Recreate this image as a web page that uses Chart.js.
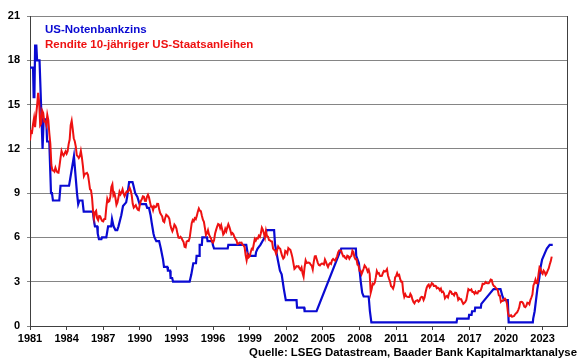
<!DOCTYPE html>
<html>
<head>
<meta charset="utf-8">
<script src="https://cdn.jsdelivr.net/npm/chart.js@4"></script>
<style>
  body { margin: 0; background: #fff; }
  canvas { display: block; }
</style>
</head>
<body>
<canvas id="chart" width="580" height="359"></canvas>
<script>
// Leitzins (Zielsatz, Obergrenze): Eckpunkte der Linie
const fedDates = [
  1981.00, 1981.25, 1981.30, 1981.36, 1981.42, 1981.52, 1981.58, 1981.78, 1982.03, 1982.12,
  1982.33, 1982.40, 1982.58, 1982.72, 1982.80, 1982.88, 1983.40, 1983.50, 1984.20, 1984.60,
  1984.75, 1984.85, 1984.95, 1985.05, 1985.30, 1985.40, 1986.15, 1986.22, 1986.32, 1986.50,
  1986.55, 1986.65, 1986.85, 1986.90, 1987.25, 1987.40, 1987.65, 1987.72, 1987.85, 1988.00,
  1988.15, 1988.25, 1988.48, 1988.62, 1988.88, 1988.96, 1989.12, 1989.40, 1989.48, 1989.62,
  1989.80, 1989.98, 1990.50, 1990.60, 1990.75, 1990.88, 1990.97, 1991.12, 1991.20, 1991.35,
  1991.58, 1991.72, 1991.90, 1991.98, 1992.25, 1992.30, 1992.48, 1992.52, 1992.65, 1992.72,
  1994.08, 1994.22, 1994.38, 1994.60, 1994.65, 1994.85, 1994.90, 1995.08, 1995.12, 1995.50,
  1995.55, 1995.94, 1995.98, 1996.08, 1997.20, 1997.25, 1998.72, 1998.82, 1998.90, 1999.48,
  1999.52, 1999.65, 1999.88, 2000.22, 2000.40, 2001.00, 2001.08, 2001.30, 2001.48, 2001.62,
  2001.80, 2001.96, 2002.84, 2002.88, 2003.46, 2003.50, 2004.48, 2006.50, 2007.70, 2007.73,
  2007.95, 2008.10, 2008.22, 2008.34, 2008.75, 2008.85, 2008.97, 2015.95, 2016.00, 2016.94,
  2016.98, 2017.18, 2017.22, 2017.44, 2017.48, 2017.94, 2017.98, 2018.98, 2019.55, 2019.72,
  2019.84, 2020.15, 2020.22, 2022.20, 2022.23, 2022.35, 2022.46, 2022.57, 2022.73, 2022.84,
  2022.96, 2023.22, 2023.35, 2023.58, 2023.83
];
const fedRates = [
  17.5, 17.5, 15.5, 15.5, 19.0, 19.0, 18.0, 18.0, 12.0, 14.0,
  14.0, 12.5, 12.5, 9.0, 9.0, 8.5, 8.5, 9.5, 9.5, 11.5,
  10.0, 9.0, 8.25, 8.5, 8.5, 7.75, 7.75, 7.25, 6.75, 6.75,
  6.25, 5.875, 5.875, 6.0, 6.0, 6.75, 6.75, 7.25, 6.75, 6.5,
  6.5, 6.75, 7.5, 8.125, 8.375, 8.75, 9.75, 9.75, 9.5, 9.0,
  8.75, 8.25, 8.25, 8.0, 8.0, 7.5, 7.0, 6.25, 6.0, 5.75,
  5.75, 5.25, 4.5, 4.0, 4.0, 3.75, 3.75, 3.25, 3.25, 3.0,
  3.0, 3.5, 4.25, 4.25, 4.75, 4.75, 5.5, 5.5, 6.0, 6.0,
  5.75, 5.75, 5.5, 5.25, 5.25, 5.5, 5.5, 5.0, 4.75, 4.75,
  5.0, 5.25, 5.5, 6.0, 6.5, 6.5, 5.5, 4.5, 3.75, 3.5,
  2.5, 1.75, 1.75, 1.25, 1.25, 1.0, 1.0, 5.25, 5.25, 4.75,
  4.25, 3.0, 2.25, 2.0, 2.0, 1.0, 0.25, 0.25, 0.5, 0.5,
  0.75, 0.75, 1.0, 1.0, 1.25, 1.25, 1.5, 2.5, 2.5, 2.0,
  1.75, 1.75, 0.25, 0.25, 0.5, 1.0, 1.75, 2.5, 3.25, 4.0,
  4.5, 5.0, 5.25, 5.5, 5.5
];

// Rendite 10-jähriger US-Staatsanleihen, Monatswerte ab Januar 1981
const bondStart = 1981;
const bondYields = [
  12.57, 13.19, 13.12, 13.68, 14.10, 13.47, 14.28, 14.94, 15.80, 15.15, 13.60, 13.72,
  14.59, 14.43, 13.86, 13.87, 13.62, 14.30, 13.95, 13.06, 12.34, 10.91, 10.55, 10.54,
  10.46, 10.72, 10.51, 10.40, 10.38, 10.85, 11.38, 11.85, 11.65, 11.54, 11.69, 11.83,
  11.67, 11.84, 12.32, 12.63, 13.60, 13.90, 13.36, 12.72, 12.52, 12.16, 11.57, 11.50,
  11.38, 11.51, 11.86, 11.43, 10.85, 10.16, 10.31, 10.33, 10.37, 10.24, 9.78, 9.26,
  9.19, 8.70, 7.78, 7.30, 7.71, 7.80, 7.30, 7.17, 7.45, 7.43, 7.25, 7.11,
  7.08, 7.25, 7.25, 8.02, 8.61, 8.40, 8.45, 8.76, 9.42, 9.60, 8.86, 8.99,
  8.67, 8.21, 8.37, 8.72, 9.09, 8.92, 9.06, 9.26, 8.98, 8.80, 8.96, 9.11,
  9.09, 9.17, 9.36, 9.18, 8.86, 8.28, 8.02, 8.11, 8.19, 8.01, 7.87, 7.84,
  8.21, 8.47, 8.59, 8.79, 8.76, 8.48, 8.47, 8.75, 8.89, 8.72, 8.39, 8.08,
  8.09, 7.85, 8.11, 8.04, 8.07, 8.28, 8.27, 7.90, 7.65, 7.53, 7.42, 7.09,
  7.03, 7.34, 7.54, 7.48, 7.39, 7.26, 6.84, 6.59, 6.42, 6.59, 6.87, 6.77,
  6.60, 6.26, 5.98, 5.97, 6.04, 5.96, 5.81, 5.68, 5.36, 5.33, 5.72, 5.77,
  5.75, 5.97, 6.48, 6.97, 7.18, 7.10, 7.30, 7.24, 7.46, 7.74, 7.96, 7.81,
  7.78, 7.47, 7.20, 7.06, 6.63, 6.17, 6.28, 6.49, 6.20, 6.04, 5.93, 5.71,
  5.65, 5.81, 6.27, 6.51, 6.74, 6.91, 6.87, 6.64, 6.83, 6.53, 6.20, 6.30,
  6.58, 6.42, 6.69, 6.89, 6.71, 6.49, 6.22, 6.30, 6.21, 6.03, 5.88, 5.81,
  5.54, 5.57, 5.65, 5.64, 5.65, 5.50, 5.46, 5.34, 4.81, 4.45, 4.83, 4.65,
  4.72, 5.00, 5.23, 5.18, 5.54, 5.90, 5.79, 5.94, 5.92, 6.11, 6.03, 6.28,
  6.66, 6.52, 6.26, 5.99, 6.44, 6.10, 6.05, 5.83, 5.80, 5.74, 5.72, 5.24,
  5.16, 5.10, 4.89, 5.14, 5.39, 5.28, 5.24, 4.97, 4.73, 4.57, 4.65, 5.09,
  5.04, 4.91, 5.28, 5.21, 5.16, 4.93, 4.65, 4.26, 3.87, 3.94, 4.05, 4.03,
  4.05, 3.90, 3.81, 3.96, 3.57, 3.33, 3.98, 4.45, 4.27, 4.29, 4.30, 4.27,
  4.15, 4.08, 3.83, 4.35, 4.72, 4.73, 4.50, 4.28, 4.13, 4.10, 4.19, 4.23,
  4.22, 4.17, 4.50, 4.34, 4.14, 4.00, 4.18, 4.26, 4.20, 4.46, 4.54, 4.47,
  4.42, 4.57, 4.72, 4.99, 5.11, 5.11, 5.09, 4.88, 4.72, 4.73, 4.60, 4.56,
  4.76, 4.72, 4.56, 4.69, 4.75, 5.10, 5.00, 4.67, 4.52, 4.53, 4.15, 4.10,
  3.74, 3.74, 3.51, 3.68, 3.88, 4.10, 4.01, 3.89, 3.69, 3.81, 3.53, 2.25,
  2.52, 2.87, 2.82, 2.93, 3.29, 3.72, 3.56, 3.59, 3.40, 3.39, 3.40, 3.59,
  3.73, 3.69, 3.73, 3.85, 3.42, 3.20, 3.01, 2.70, 2.65, 2.54, 2.76, 3.29,
  3.39, 3.58, 3.41, 3.46, 3.17, 3.00, 3.00, 2.30, 1.98, 2.15, 2.01, 1.98,
  1.97, 1.97, 2.17, 2.05, 1.80, 1.62, 1.53, 1.68, 1.72, 1.75, 1.65, 1.72,
  1.91, 1.98, 1.96, 1.76, 1.93, 2.30, 2.58, 2.74, 2.81, 2.62, 2.72, 2.90,
  2.86, 2.71, 2.72, 2.71, 2.56, 2.60, 2.54, 2.42, 2.53, 2.30, 2.33, 2.21,
  1.88, 1.98, 2.04, 1.94, 2.20, 2.36, 2.32, 2.17, 2.17, 2.07, 2.26, 2.24,
  2.09, 1.78, 1.89, 1.81, 1.81, 1.64, 1.50, 1.56, 1.63, 1.76, 2.14, 2.49,
  2.43, 2.42, 2.48, 2.30, 2.30, 2.19, 2.32, 2.21, 2.20, 2.36, 2.35, 2.40,
  2.58, 2.86, 2.84, 2.87, 2.98, 2.91, 2.89, 2.89, 3.00, 3.15, 3.12, 2.83,
  2.71, 2.68, 2.57, 2.53, 2.40, 2.07, 2.06, 1.63, 1.70, 1.71, 1.81, 1.86,
  1.76, 1.50, 0.87, 0.66, 0.67, 0.73, 0.62, 0.65, 0.68, 0.79, 0.87, 0.93,
  1.08, 1.26, 1.61, 1.64, 1.62, 1.52, 1.32, 1.28, 1.37, 1.58, 1.56, 1.47,
  1.76, 1.93, 2.13, 2.75, 2.90, 3.14, 2.90, 2.90, 3.52, 3.98, 3.89, 3.62,
  3.53, 3.75, 3.66, 3.46, 3.57, 3.75, 3.90, 4.17, 4.38, 4.70
];

const xTickYears = [1981, 1984, 1987, 1990, 1993, 1996, 1999, 2002, 2005, 2008, 2011, 2014, 2017, 2020, 2023];
const yTickValues = [0, 3, 6, 9, 12, 15, 18, 21];
const seriesNames = ["US-Notenbankzins", "Rendite 10-jähriger US-Staatsanleihen"];
const sourceText = "Quelle: LSEG Datastream, Baader Bank Kapitalmarktanalyse";

const FONT = "'Liberation Sans', Arial, sans-serif";

const fedPoints = fedDates.map((d, i) => ({ x: d, y: fedRates[i] }));
const bondPoints = bondYields.map((v, i) => ({ x: bondStart + i / 12, y: v }));

// Legende im Diagramm, Rahmen rechts und Quellenangabe
const extras = {
  id: "extras",
  afterDraw(chart) {
    const ctx = chart.ctx;
    const a = chart.chartArea;
    ctx.save();
    ctx.strokeStyle = "#404040";
    ctx.lineWidth = 1;
    ctx.beginPath();
    ctx.moveTo(a.right + 0.5, a.top);
    ctx.lineTo(a.right + 0.5, a.bottom);
    ctx.stroke();

    ctx.font = "bold 11.5px " + FONT;
    ctx.textBaseline = "middle";
    ctx.textAlign = "left";
    chart.data.datasets.slice().sort((p, q) => p.legendRow - q.legendRow).forEach((ds, i) => {
      ctx.fillStyle = ds.borderColor;
      ctx.fillText(ds.label, a.left + 15, 29.5 + i * 15.8);
    });

    ctx.font = "bold 11.4px " + FONT;
    ctx.fillStyle = "#000";
    ctx.textAlign = "right";
    ctx.fillText(sourceText, 577, 352.5);
    ctx.restore();
  }
};

new Chart(document.getElementById("chart"), {
  type: "line",
  data: {
    datasets: [
      {
        label: seriesNames[1],
        legendRow: 1,
        data: bondPoints,
        borderColor: "#ee1111",
        borderWidth: 2,
        pointRadius: 0,
        tension: 0,
        order: 0
      },
      {
        label: seriesNames[0],
        legendRow: 0,
        data: fedPoints,
        borderColor: "#0a0ad2",
        borderWidth: 2.2,
        pointRadius: 0,
        tension: 0,
        order: 1
      }
    ]
  },
  options: {
    responsive: false,
    animation: false,
    devicePixelRatio: 1,
    layout: { padding: { top: 16, right: 13, bottom: 13, left: 0 } },
    plugins: { legend: { display: false }, tooltip: { enabled: false } },
    scales: {
      x: {
        type: "linear",
        min: 1981,
        max: 2025,
        afterBuildTicks: s => { s.ticks = xTickYears.map(v => ({ value: v })); },
        afterFit: s => { s.height = 20; },
        grid: { drawOnChartArea: false, drawTicks: true, tickLength: 4, color: "#404040" },
        border: { display: true, color: "#404040", width: 1 },
        ticks: {
          autoSkip: false,
          maxRotation: 0,
          padding: 2,
          color: "#000",
          font: { family: FONT, size: 11, weight: "bold" },
          callback: v => String(v)
        }
      },
      y: {
        min: 0,
        max: 21,
        afterBuildTicks: s => { s.ticks = yTickValues.map(v => ({ value: v })); },
        afterFit: s => { s.width = 30; },
        grid: { color: "#858585", lineWidth: 1, drawTicks: true, tickLength: 3 },
        border: { display: true, color: "#404040", width: 1 },
        ticks: {
          padding: 7,
          color: "#000",
          font: { family: FONT, size: 11, weight: "bold" }
        }
      }
    }
  },
  plugins: [extras]
});
</script>
</body>
</html>
